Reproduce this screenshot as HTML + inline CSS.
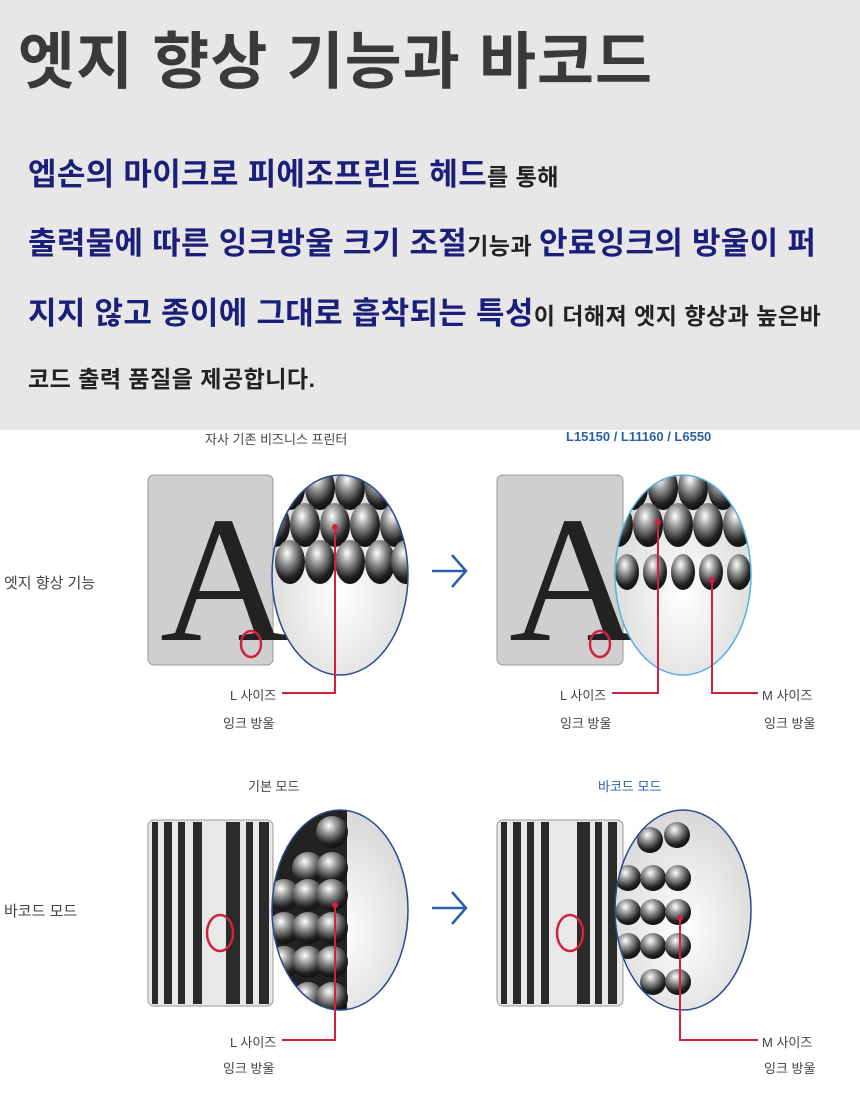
<!DOCTYPE html>
<html><head><meta charset="utf-8"><style>
body{margin:0;width:860px;height:1100px;background:#fff;font-family:"Liberation Sans","Noto Sans CJK KR",sans-serif;position:relative;overflow:hidden}
.top{position:absolute;left:0;top:0;width:860px;height:430px;background:#e7e7e7}
.t{position:absolute;white-space:nowrap}
h1{position:absolute;left:18px;top:11px;margin:0;font-size:62px;font-weight:bold;color:#3a3a3a;letter-spacing:1px}
.b{color:#1c1f7a;font-size:31px;font-weight:bold;letter-spacing:0.3px}
.s{color:#222;font-size:23px;font-weight:bold;letter-spacing:0.5px}
.lab{position:absolute;font-size:13px;color:#444;white-space:nowrap}
</style></head><body>
<div class="top"></div>
<h1>엣지 향상 기능과 바코드</h1>
<div class="t" style="left:28px;top:149px"><span class="b">엡손의 마이크로 피에조프린트 헤드</span><span class="s">를 통해</span></div>
<div class="t" style="left:28px;top:218px"><span class="b">출력물에 따른 잉크방울 크기 조절</span><span class="s">기능과 </span><span class="b">안료잉크의 방울이 퍼</span></div>
<div class="t" style="left:28px;top:288px"><span class="b">지지 않고 종이에 그대로 흡착되는 특성</span><span class="s">이 더해져 엣지 향상과 높은바</span></div>
<div class="t" style="left:28px;top:360px"><span class="s">코드 출력 품질을 제공합니다.</span></div>

<svg width="860" height="1100" style="position:absolute;left:0;top:0">
<defs>
<radialGradient id="ball" cx="0.4" cy="0.3" r="0.7"><stop offset="0" stop-color="#fff"/><stop offset="0.35" stop-color="#999"/><stop offset="0.8" stop-color="#222"/><stop offset="1" stop-color="#111"/></radialGradient>
<radialGradient id="lens" cx="0.5" cy="0.6" r="0.6"><stop offset="0" stop-color="#fff"/><stop offset="1" stop-color="#d8d8d8"/></radialGradient>
<clipPath id="c1"><ellipse cx="340" cy="575" rx="68" ry="100"/></clipPath>
<clipPath id="c2"><ellipse cx="683" cy="575" rx="68" ry="100"/></clipPath>
<clipPath id="c3"><ellipse cx="340" cy="910" rx="68" ry="100"/></clipPath>
<clipPath id="c4"><ellipse cx="683" cy="910" rx="68" ry="100"/></clipPath>
</defs>
<rect x="148" y="475" width="125" height="190" rx="6" fill="#cfcfcf" stroke="#999"/>
<text x="160" y="640" font-family="Liberation Serif,serif" font-size="180" fill="#222">A</text>
<ellipse cx="251" cy="644" rx="10" ry="13" fill="none" stroke="#d0223f" stroke-width="2.5"/>
<ellipse cx="340" cy="575" rx="68" ry="100" fill="url(#lens)"/>
<g clip-path="url(#c1)">
<g fill="url(#ball)">
<ellipse cx="290" cy="488" rx="15" ry="22"/><ellipse cx="320" cy="488" rx="15" ry="22"/><ellipse cx="350" cy="488" rx="15" ry="22"/><ellipse cx="380" cy="488" rx="15" ry="22"/>
<ellipse cx="275" cy="525" rx="15" ry="22"/><ellipse cx="305" cy="525" rx="15" ry="22"/><ellipse cx="335" cy="525" rx="15" ry="22"/><ellipse cx="365" cy="525" rx="15" ry="22"/><ellipse cx="395" cy="525" rx="15" ry="22"/>
<ellipse cx="290" cy="562" rx="15" ry="22"/><ellipse cx="320" cy="562" rx="15" ry="22"/><ellipse cx="350" cy="562" rx="15" ry="22"/><ellipse cx="380" cy="562" rx="15" ry="22"/><ellipse cx="406" cy="562" rx="15" ry="22"/>
</g></g>
<ellipse cx="340" cy="575" rx="68" ry="100" fill="none" stroke="#2b4b8c" stroke-width="1.5"/>
<polyline points="335,527 335,693 282,693" fill="none" stroke="#d0223f" stroke-width="2"/><circle cx="335" cy="527" r="3" fill="#d0223f"/>
<path d="M432 571 H465 M452 555 L466 571 L452 587" fill="none" stroke="#2b5fa8" stroke-width="2.5"/>
<rect x="497" y="475" width="126" height="190" rx="6" fill="#cfcfcf" stroke="#999"/>
<text x="509" y="640" font-family="Liberation Serif,serif" font-size="180" fill="#222">A</text>
<ellipse cx="600" cy="644" rx="10" ry="13" fill="none" stroke="#d0223f" stroke-width="2.5"/>
<ellipse cx="683" cy="575" rx="68" ry="100" fill="url(#lens)"/>
<g clip-path="url(#c2)"><g fill="url(#ball)">
<ellipse cx="633" cy="488" rx="15" ry="22"/><ellipse cx="663" cy="488" rx="15" ry="22"/><ellipse cx="693" cy="488" rx="15" ry="22"/><ellipse cx="723" cy="488" rx="15" ry="22"/>
<ellipse cx="618" cy="525" rx="15" ry="22"/><ellipse cx="648" cy="525" rx="15" ry="22"/><ellipse cx="678" cy="525" rx="15" ry="22"/><ellipse cx="708" cy="525" rx="15" ry="22"/><ellipse cx="738" cy="525" rx="15" ry="22"/>
<ellipse cx="627" cy="572" rx="12" ry="18"/><ellipse cx="655" cy="572" rx="12" ry="18"/><ellipse cx="683" cy="572" rx="12" ry="18"/><ellipse cx="711" cy="572" rx="12" ry="18"/><ellipse cx="739" cy="572" rx="12" ry="18"/>
</g></g>
<ellipse cx="683" cy="575" rx="68" ry="100" fill="none" stroke="#5ab0dd" stroke-width="1.5"/>
<polyline points="658,522 658,693 612,693" fill="none" stroke="#d0223f" stroke-width="2"/><circle cx="658" cy="522" r="3" fill="#d0223f"/>
<polyline points="712,580 712,693 758,693" fill="none" stroke="#d0223f" stroke-width="2"/><circle cx="712" cy="580" r="3" fill="#d0223f"/>
<rect x="148" y="820" width="125" height="186" rx="6" fill="#e8e8e8" stroke="#999"/>
<g fill="#2a2a2a"><rect x="152" y="822" width="6" height="182"/><rect x="164" y="822" width="8" height="182"/><rect x="178" y="822" width="7" height="182"/><rect x="193" y="822" width="9" height="182"/><rect x="226" y="822" width="14" height="182"/><rect x="246" y="822" width="7" height="182"/><rect x="259" y="822" width="10" height="182"/></g>
<ellipse cx="220" cy="933" rx="13" ry="18" fill="none" stroke="#d0223f" stroke-width="2.5"/>
<ellipse cx="340" cy="910" rx="68" ry="100" fill="url(#lens)"/>
<g clip-path="url(#c3)"><rect x="270" y="800" width="77" height="220" fill="#222"/><g fill="url(#ball)">
<circle cx="332" cy="832" r="16"/><circle cx="308" cy="868" r="16"/><circle cx="332" cy="868" r="16"/>
<circle cx="284" cy="895" r="16"/><circle cx="308" cy="895" r="16"/><circle cx="332" cy="895" r="16"/>
<circle cx="284" cy="928" r="16"/><circle cx="308" cy="928" r="16"/><circle cx="332" cy="928" r="16"/>
<circle cx="284" cy="962" r="16"/><circle cx="308" cy="962" r="16"/><circle cx="332" cy="962" r="16"/>
<circle cx="308" cy="998" r="16"/><circle cx="332" cy="998" r="16"/></g></g>
<ellipse cx="340" cy="910" rx="68" ry="100" fill="none" stroke="#2b4b8c" stroke-width="1.5"/>
<polyline points="335,905 335,1040 282,1040" fill="none" stroke="#d0223f" stroke-width="2"/><circle cx="335" cy="905" r="3" fill="#d0223f"/>
<path d="M432 908 H465 M452 892 L466 908 L452 924" fill="none" stroke="#2b5fa8" stroke-width="2.5"/>
<rect x="497" y="820" width="126" height="186" rx="6" fill="#e8e8e8" stroke="#999"/>
<g fill="#2a2a2a"><rect x="501" y="822" width="6" height="182"/><rect x="513" y="822" width="8" height="182"/><rect x="527" y="822" width="7" height="182"/><rect x="541" y="822" width="8" height="182"/><rect x="577" y="822" width="13" height="182"/><rect x="595" y="822" width="7" height="182"/><rect x="608" y="822" width="9" height="182"/></g>
<ellipse cx="570" cy="933" rx="13" ry="18" fill="none" stroke="#d0223f" stroke-width="2.5"/>
<ellipse cx="683" cy="910" rx="68" ry="100" fill="url(#lens)"/>
<g clip-path="url(#c4)"><g fill="url(#ball)">
<circle cx="650" cy="840" r="13"/><circle cx="677" cy="835" r="13"/>
<circle cx="628" cy="878" r="13"/><circle cx="653" cy="878" r="13"/><circle cx="678" cy="878" r="13"/>
<circle cx="628" cy="912" r="13"/><circle cx="653" cy="912" r="13"/><circle cx="678" cy="912" r="13"/>
<circle cx="628" cy="946" r="13"/><circle cx="653" cy="946" r="13"/><circle cx="678" cy="946" r="13"/>
<circle cx="653" cy="982" r="13"/><circle cx="678" cy="982" r="13"/></g></g>
<ellipse cx="683" cy="910" rx="68" ry="100" fill="none" stroke="#2b4b8c" stroke-width="1.5"/>
<polyline points="680,918 680,1040 758,1040" fill="none" stroke="#d0223f" stroke-width="2"/><circle cx="680" cy="918" r="3" fill="#d0223f"/>
</svg>
<div class="lab" style="left:205px;top:429px">자사 기존 비즈니스 프린터</div>
<div class="lab" style="left:566px;top:429px;color:#2b5fa8;font-weight:bold">L15150 / L11160 / L6550</div>
<div class="lab" style="left:4px;top:572px;font-size:15px">엣지 향상 기능</div>
<div class="lab" style="left:230px;top:685px">L 사이즈</div><div class="lab" style="left:223px;top:713px">잉크 방울</div>
<div class="lab" style="left:560px;top:685px">L 사이즈</div><div class="lab" style="left:560px;top:713px">잉크 방울</div>
<div class="lab" style="left:762px;top:685px">M 사이즈</div><div class="lab" style="left:764px;top:713px">잉크 방울</div>
<div class="lab" style="left:248px;top:776px">기본 모드</div>
<div class="lab" style="left:598px;top:776px;color:#2b5fa8">바코드 모드</div>
<div class="lab" style="left:4px;top:900px;font-size:15px">바코드 모드</div>
<div class="lab" style="left:230px;top:1032px">L 사이즈</div><div class="lab" style="left:223px;top:1058px">잉크 방울</div>
<div class="lab" style="left:762px;top:1032px">M 사이즈</div><div class="lab" style="left:764px;top:1058px">잉크 방울</div>
</body></html>
